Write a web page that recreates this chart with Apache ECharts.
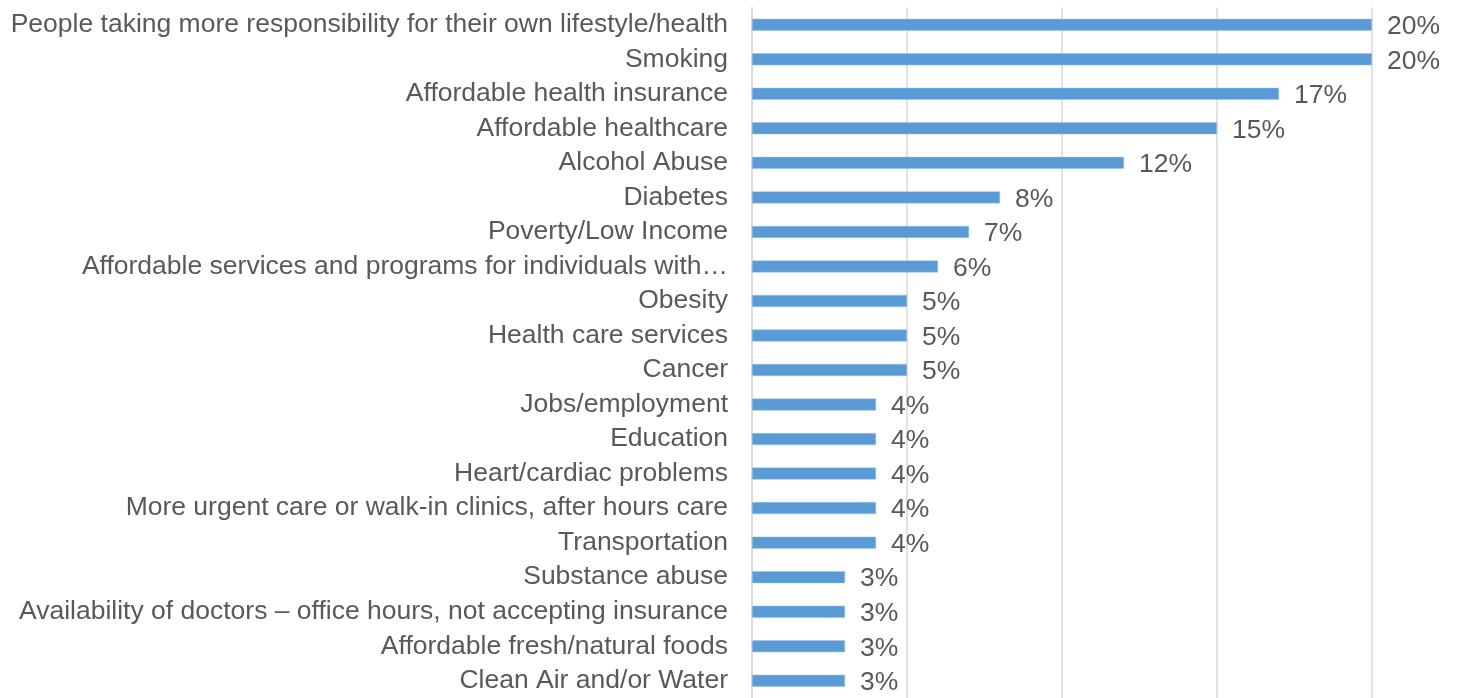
<!DOCTYPE html>
<html>
<head>
<meta charset="utf-8">
<script src="https://cdn.jsdelivr.net/npm/echarts@6/dist/echarts.min.js"></script>
<style>
html,body{margin:0;padding:0;background:#fff;}
#chart{width:1457px;height:698px;}
</style>
</head>
<body>
<div id="chart"></div>
<script>
const categories = [
  "People taking more responsibility for their own lifestyle/health",
  "Smoking",
  "Affordable health insurance",
  "Affordable healthcare",
  "Alcohol Abuse",
  "Diabetes",
  "Poverty/Low Income",
  "Affordable services and programs for individuals with…",
  "Obesity",
  "Health care services",
  "Cancer",
  "Jobs/employment",
  "Education",
  "Heart/cardiac problems",
  "More urgent care or walk-in clinics, after hours care",
  "Transportation",
  "Substance abuse",
  "Availability of doctors – office hours, not accepting insurance",
  "Affordable fresh/natural foods",
  "Clean Air and/or Water"
];
const values = [20, 20, 17, 15, 12, 8, 7, 6, 5, 5, 5, 4, 4, 4, 4, 4, 3, 3, 3, 3];
const xTicks = [0, 5, 10, 15, 20];

const FONT = '"Liberation Sans", Arial, sans-serif';
const chart = echarts.init(document.getElementById('chart'));
chart.setOption({
  animation: false,
  textStyle: { fontFamily: FONT },
  grid: { left: 752, right: 85, top: 7.5, height: 694.5, containLabel: false },
  xAxis: {
    type: 'value',
    min: xTicks[0],
    max: xTicks[xTicks.length - 1],
    interval: xTicks[1] - xTicks[0],
    axisLabel: { show: false },
    axisLine: { show: false },
    axisTick: { show: false },
    splitLine: { show: true, lineStyle: { color: '#d9d9d9', width: 1.5 } }
  },
  yAxis: {
    type: 'category',
    inverse: true,
    data: categories,
    axisLine: { show: true, lineStyle: { color: '#d9d9d9', width: 1.5 } },
    axisTick: { show: false },
    axisLabel: { interval: 0, hideOverlap: false, margin: 24, fontSize: 26.5, color: '#595959', fontFamily: FONT, padding: [2, 0, 0, 0] }
  },
  series: [{
    type: 'bar',
    data: values,
    barWidth: 12,
    itemStyle: { color: '#5B9BD5', borderColor: '#9DC3E6', borderWidth: 0.5 },
    label: {
      show: true,
      position: 'right',
      distance: 15,
      formatter: '{c}%',
      fontSize: 26.5,
      color: '#595959',
      fontFamily: FONT,
      offset: [0, 2]
    }
  }]
});
</script>
</body>
</html>
